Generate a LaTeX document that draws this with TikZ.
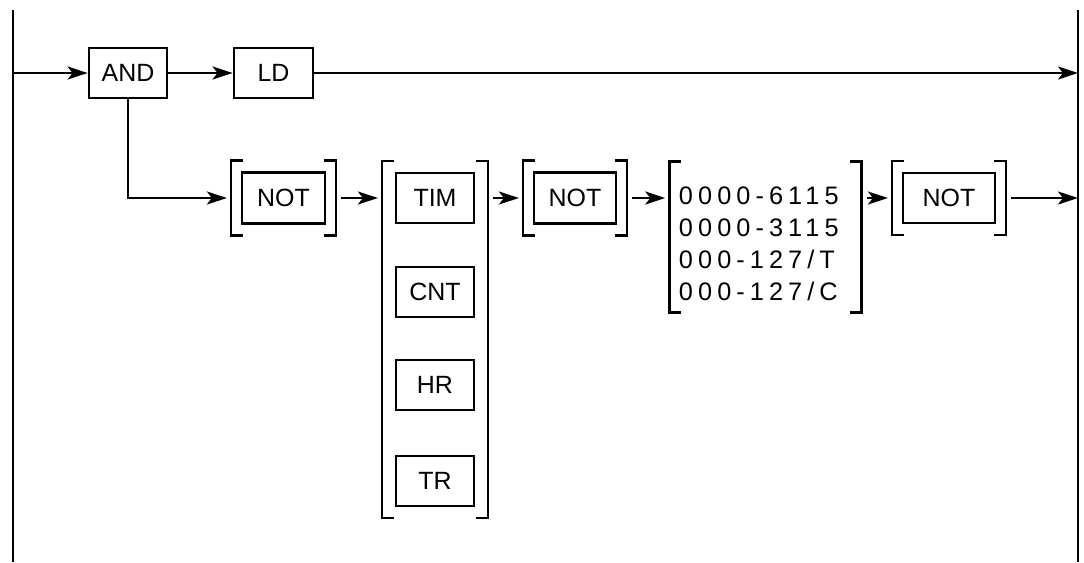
\documentclass[tikz,border=0pt]{standalone}
\usepackage{fontspec}
\setmainfont{Liberation Sans}
\usetikzlibrary{positioning,arrows.meta,fit}
\tikzset{
  box/.style={draw,line width=0.8pt,inner sep=0pt,minimum width=7.8mm,minimum height=5mm,
              font=\fontsize{7.1}{8.5}\selectfont},
  grp/.style={inner xsep=0.9mm,inner ysep=1mm},
  brk/.style={line width=0.75pt},
  arr/.style={line width=0.7pt,-{Stealth[length=2mm,width=1.3mm,inset=0.5mm]}},
  gap/.style={shorten <=0.5mm,shorten >=0.4mm},
  rail/.style={line width=0.7pt},
  numlist/.style={inner sep=0pt,align=left,
                  font=\fontsize{7.2}{9.1}\selectfont\addfontfeature{LetterSpace=20}}
}
% square brackets round a group node
\newcommand{\brackets}[1]{%
  \draw[brk] ([xshift=1.2mm]#1.north west) -| (#1.south west) -- ++(1.2mm,0);
  \draw[brk] ([xshift=-1.2mm]#1.north east) -| (#1.south east) -- ++(-1.2mm,0);}
\begin{document}
\begin{tikzpicture}[x=1cm,y=1cm]
    \useasboundingbox (0,0) rectangle (10.84,5.62);
    % power rails
    \coordinate (lt) at (0.13,5.52);
    \coordinate (lb) at (0.13,0);
    \coordinate (rt) at (10.78,5.52);
    \coordinate (rb) at (10.78,0);
    \draw[rail] (lt) -- (lb);
    \draw[rail] (rt) -- (rb);
    \coordinate (in) at (0.13,4.89);
    \coordinate (out1) at (10.78,4.89);
    \coordinate (out2) at (10.78,3.64);
    % first row
    \node[box] (and) at (1.28,4.89) {AND};
    \node[box,minimum width=7.9mm] (ld) at (2.735,4.89) {LD};
    % second row
    \node[box,minimum width=8.3mm,minimum height=5.1mm] (not1) at (2.835,3.64) {NOT};
    \node[box] (tim) at (4.35,3.64) {TIM};
    \node[box] (cnt) at (4.35,2.70) {CNT};
    \node[box] (hr) at (4.35,1.77) {HR};
    \node[box] (tr) at (4.35,0.81) {TR};
    \node[box,minimum width=8.2mm,minimum height=5.1mm] (not2) at (5.75,3.64) {NOT};
    \node[minimum width=19.1mm,minimum height=15mm,inner sep=0pt] (g5) at (7.655,3.25) {};
    \node[numlist,anchor=north west] (num) at ([xshift=0.9mm,yshift=-2.5mm]g5.north west)
        {0000-6115\\0000-3115\\000-127/T\\000-127/C};
    \node[box,minimum width=9.2mm] (not3) at (9.49,3.64) {NOT};
    % bracket groups
    \node[grp,fit=(not1)] (g1) {};
    \node[grp,inner xsep=1.2mm,fit=(tim)(tr)] (g2) {};
    \node[grp,fit=(not2)] (g3) {};
    \node[grp,fit=(not3)] (g4) {};
    \brackets{g1}
    \brackets{g2}
    \brackets{g3}
    \brackets{g5}
    \brackets{g4}
    % connections
    \draw[arr] (in) -- (and);
    \draw[arr] (and) -- (ld);
    \draw[arr] (ld) -- (out1);
    \draw[arr,shorten >=0.4mm] (and.south) |- (g1.west);
    \draw[arr,gap] (g1.east) -- (g1.east -| g2.west);
    \draw[arr,gap] (g2.east |- tim) -- (g3.west);
    \draw[arr,gap] (g3.east) -- (g3.east -| g5.west);
    \draw[arr,gap] (g5.east |- g4) -- (g4.west);
    \draw[arr,shorten <=0.5mm] (g4.east) -- (out2);
\end{tikzpicture}
\end{document}
